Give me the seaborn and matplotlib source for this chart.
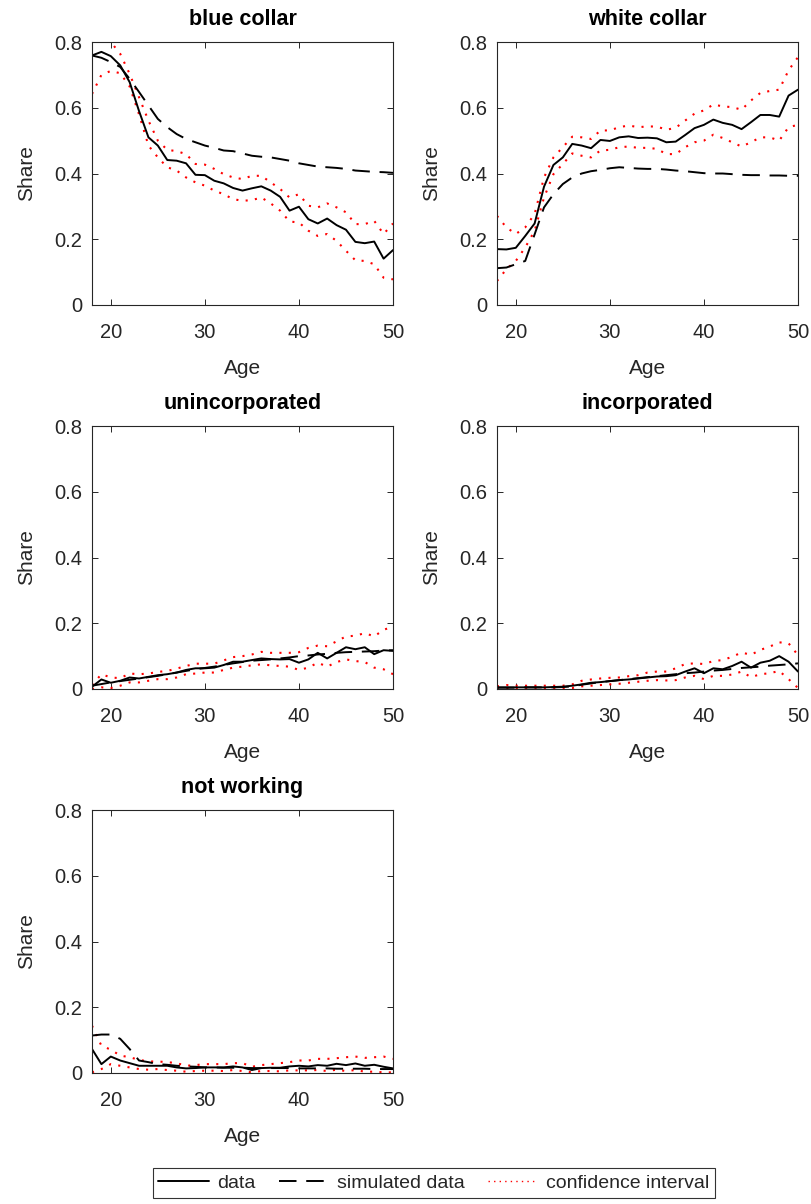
import numpy as np
import pandas as pd
import matplotlib
matplotlib.use("Agg")
import matplotlib.pyplot as plt
import seaborn as sns
from matplotlib.lines import Line2D
from matplotlib.ticker import FuncFormatter

sns.set_theme(style="white")
plt.rcParams['font.family'] = ['Liberation Sans', 'DejaVu Sans']

ages = list(range(18, 51))

titles = ["blue collar", "white collar", "unincorporated", "incorporated", "not working"]

# ---- blue collar ----
bc_data = [0.759, 0.770, 0.757, 0.729, 0.678, 0.590, 0.510, 0.485, 0.441, 0.439, 0.431, 0.396, 0.395,
           0.378, 0.370, 0.356, 0.348, 0.355, 0.361, 0.348, 0.329, 0.287, 0.299, 0.261, 0.248, 0.263,
           0.243, 0.229, 0.192, 0.188, 0.193, 0.141, 0.167]
bc_sim = [0.759, 0.752, 0.739, 0.724, 0.688, 0.648, 0.607, 0.566, 0.541, 0.520, 0.505, 0.495, 0.485,
          0.478, 0.470, 0.468, 0.461, 0.454, 0.451, 0.449, 0.444, 0.439, 0.431, 0.426, 0.421, 0.419,
          0.417, 0.414, 0.409, 0.407, 0.405, 0.404, 0.402]
bc_hi = [0.880, 0.840, 0.800, 0.764, 0.703, 0.632, 0.561, 0.500, 0.472, 0.468, 0.459, 0.429, 0.427,
         0.414, 0.398, 0.388, 0.383, 0.393, 0.393, 0.373, 0.353, 0.327, 0.337, 0.302, 0.297, 0.309,
         0.297, 0.282, 0.246, 0.246, 0.256, 0.216, 0.248]
bc_lo = [0.642, 0.700, 0.712, 0.705, 0.665, 0.580, 0.485, 0.449, 0.419, 0.409, 0.388, 0.373, 0.363,
         0.348, 0.337, 0.322, 0.317, 0.319, 0.327, 0.309, 0.287, 0.254, 0.251, 0.226, 0.210, 0.216,
         0.195, 0.165, 0.136, 0.134, 0.124, 0.083, 0.078]

# ---- white collar ----
wc_data = [0.170, 0.169, 0.174, 0.210, 0.248, 0.360, 0.426, 0.449, 0.490, 0.485, 0.477, 0.502, 0.499,
           0.510, 0.513, 0.508, 0.509, 0.507, 0.495, 0.497, 0.517, 0.538, 0.548, 0.564, 0.554, 0.548,
           0.535, 0.556, 0.578, 0.578, 0.573, 0.637, 0.655]
wc_sim = [0.112, 0.114, 0.124, 0.134, 0.215, 0.297, 0.337, 0.368, 0.388, 0.400, 0.407, 0.411, 0.416,
          0.419, 0.417, 0.415, 0.414, 0.414, 0.412, 0.409, 0.407, 0.404, 0.401, 0.400, 0.400, 0.398,
          0.396, 0.395, 0.395, 0.394, 0.394, 0.393, 0.393]
wc_hi = [0.271, 0.236, 0.216, 0.236, 0.277, 0.388, 0.449, 0.480, 0.512, 0.510, 0.505, 0.531, 0.531,
         0.541, 0.546, 0.541, 0.543, 0.543, 0.533, 0.539, 0.561, 0.582, 0.592, 0.610, 0.604, 0.602,
         0.594, 0.622, 0.645, 0.651, 0.655, 0.714, 0.754]
wc_lo = [0.073, 0.109, 0.134, 0.175, 0.226, 0.327, 0.398, 0.429, 0.461, 0.454, 0.449, 0.470, 0.472,
         0.480, 0.482, 0.478, 0.478, 0.475, 0.459, 0.459, 0.480, 0.495, 0.500, 0.518, 0.508, 0.495,
         0.482, 0.495, 0.510, 0.510, 0.500, 0.541, 0.548]

# ---- unincorporated ----
un_data = [0.007, 0.029, 0.019, 0.025, 0.035, 0.032, 0.037, 0.042, 0.045, 0.050, 0.058, 0.063, 0.063,
           0.065, 0.073, 0.083, 0.083, 0.088, 0.093, 0.091, 0.090, 0.091, 0.080, 0.090, 0.110, 0.093,
           0.110, 0.127, 0.121, 0.127, 0.106, 0.118, 0.116]
un_sim = [0.010, 0.015, 0.020, 0.024, 0.028, 0.032, 0.036, 0.040, 0.045, 0.050, 0.055, 0.060, 0.064,
          0.068, 0.073, 0.078, 0.082, 0.086, 0.088, 0.090, 0.093, 0.096, 0.100, 0.102, 0.105, 0.107,
          0.110, 0.112, 0.113, 0.114, 0.115, 0.117, 0.118]
un_hi = [0.012, 0.045, 0.035, 0.033, 0.047, 0.045, 0.047, 0.052, 0.055, 0.062, 0.070, 0.077, 0.077,
         0.077, 0.087, 0.097, 0.100, 0.105, 0.113, 0.110, 0.110, 0.110, 0.112, 0.125, 0.132, 0.130,
         0.145, 0.160, 0.162, 0.170, 0.160, 0.180, 0.190]
un_lo = [0.000, 0.005, 0.003, 0.010, 0.020, 0.020, 0.025, 0.030, 0.030, 0.035, 0.045, 0.047, 0.050,
         0.050, 0.058, 0.065, 0.068, 0.072, 0.075, 0.072, 0.070, 0.068, 0.058, 0.065, 0.080, 0.068,
         0.082, 0.090, 0.085, 0.082, 0.065, 0.060, 0.045]

# ---- incorporated ----
inc_data = [0.005, 0.005, 0.005, 0.005, 0.005, 0.005, 0.006, 0.007, 0.010, 0.014, 0.019, 0.021, 0.024,
            0.027, 0.029, 0.032, 0.035, 0.038, 0.039, 0.042, 0.053, 0.063, 0.048, 0.063, 0.060, 0.070,
            0.083, 0.065, 0.080, 0.086, 0.100, 0.083, 0.053]
inc_sim = [0.004, 0.004, 0.004, 0.005, 0.005, 0.005, 0.005, 0.006, 0.008, 0.013, 0.017, 0.021, 0.024,
           0.027, 0.030, 0.033, 0.036, 0.039, 0.042, 0.045, 0.048, 0.050, 0.053, 0.056, 0.058, 0.061,
           0.064, 0.066, 0.068, 0.071, 0.073, 0.075, 0.078]
inc_hi = [0.008, 0.012, 0.010, 0.010, 0.010, 0.010, 0.010, 0.010, 0.014, 0.025, 0.029, 0.032, 0.034,
          0.035, 0.039, 0.042, 0.050, 0.053, 0.053, 0.063, 0.076, 0.078, 0.076, 0.085, 0.088, 0.098,
          0.111, 0.104, 0.119, 0.129, 0.142, 0.139, 0.103]
inc_lo = [0.000, 0.000, 0.000, 0.000, 0.000, 0.000, 0.000, 0.001, 0.003, 0.008, 0.010, 0.012, 0.014,
          0.016, 0.019, 0.022, 0.025, 0.027, 0.026, 0.027, 0.035, 0.040, 0.030, 0.040, 0.040, 0.044,
          0.053, 0.036, 0.045, 0.048, 0.055, 0.030, 0.003]

# ---- not working ----
nw_data = [0.073, 0.027, 0.050, 0.038, 0.030, 0.022, 0.022, 0.022, 0.022, 0.017, 0.014, 0.015, 0.017,
           0.017, 0.017, 0.020, 0.017, 0.009, 0.015, 0.016, 0.016, 0.020, 0.022, 0.020, 0.024, 0.022,
           0.028, 0.024, 0.029, 0.022, 0.025, 0.019, 0.014]
nw_sim = [0.114, 0.117, 0.117, 0.104, 0.073, 0.038, 0.033, 0.027, 0.025, 0.022, 0.020, 0.019, 0.017,
          0.017, 0.016, 0.016, 0.016, 0.015, 0.015, 0.015, 0.015, 0.015, 0.014, 0.014, 0.014, 0.014,
          0.013, 0.013, 0.013, 0.013, 0.012, 0.012, 0.012]
nw_hi = [0.144, 0.083, 0.071, 0.053, 0.048, 0.040, 0.035, 0.035, 0.033, 0.030, 0.022, 0.024, 0.027,
         0.027, 0.027, 0.030, 0.030, 0.019, 0.024, 0.027, 0.030, 0.033, 0.038, 0.038, 0.043, 0.043,
         0.045, 0.048, 0.050, 0.046, 0.048, 0.050, 0.043]
nw_lo = [0.002, 0.012, 0.027, 0.022, 0.017, 0.012, 0.010, 0.012, 0.009, 0.007, 0.004, 0.006, 0.007,
         0.007, 0.006, 0.009, 0.006, 0.002, 0.006, 0.006, 0.005, 0.008, 0.008, 0.008, 0.009, 0.006,
         0.010, 0.006, 0.009, 0.004, 0.004, 0.002, 0.002]

panels = [
    (bc_data, bc_sim, bc_hi, bc_lo),
    (wc_data, wc_sim, wc_hi, wc_lo),
    (un_data, un_sim, un_hi, un_lo),
    (inc_data, inc_sim, inc_hi, inc_lo),
    (nw_data, nw_sim, nw_hi, nw_lo),
]

W, H = 812, 1204
fig = plt.figure(figsize=(W / 100, H / 100), dpi=100)

lefts = [92, 497]
tops = [42, 426, 810]
aw, ah = 301, 263

axcol = "#262626"
fmt = FuncFormatter(lambda v, p: "%g" % round(v, 3))
DASH = (0, (9, 5))
DOT = (0, (1, 3.5))

for i, (title, (d, s, hi, lo)) in enumerate(zip(titles, panels)):
    r, c = divmod(i, 2)
    l = lefts[c]
    t = tops[r]
    ax = fig.add_axes([l / W, 1 - (t + ah) / H, aw / W, ah / H])
    df = pd.DataFrame({"Age": ages, "data": d, "sim": s, "hi": hi, "lo": lo})
    sns.lineplot(data=df, x="Age", y="hi", ax=ax, color="red", linestyle=DOT, linewidth=1.5)
    sns.lineplot(data=df, x="Age", y="lo", ax=ax, color="red", linestyle=DOT, linewidth=1.5)
    sns.lineplot(data=df, x="Age", y="sim", ax=ax, color="black", linestyle=DASH, linewidth=1.4)
    sns.lineplot(data=df, x="Age", y="data", ax=ax, color="black", linestyle="-", linewidth=1.4)
    ax.set_xlim(18, 50)
    ax.set_ylim(0, 0.8)
    ax.set_xticks([20, 30, 40, 50])
    ax.set_yticks([0, 0.2, 0.4, 0.6, 0.8])
    ax.yaxis.set_major_formatter(fmt)
    ax.set_title(title, fontsize=15.5, fontweight="bold", color="black", pad=12)
    ax.set_xlabel("Age", fontsize=15, color=axcol, labelpad=12)
    ax.set_ylabel("Share", fontsize=15, color=axcol, labelpad=13)
    ax.tick_params(axis="both", direction="in", length=4, width=0.7, colors=axcol, labelsize=14.5,
                   top=True, right=True, bottom=True, left=True)
    ax.tick_params(axis="x", pad=13)
    ax.tick_params(axis="y", pad=7)
    for sp in ax.spines.values():
        sp.set_color(axcol)
        sp.set_linewidth(0.8)
        sp.set_visible(True)
    ax.set_facecolor("white")
    ax.grid(False)

handles = [
    Line2D([], [], color="black", linestyle="-", linewidth=1.4),
    Line2D([], [], color="black", linestyle=DASH, linewidth=1.4),
    Line2D([], [], color="red", linestyle=(0, (1, 3)), linewidth=1.0),
]
leg = fig.legend(handles, ["data", "simulated data", "confidence interval"], ncol=3,
                 loc="center", bbox_to_anchor=(434 / W, 1 - 1183 / H), frameon=True,
                 fontsize=14, handlelength=2.6, handletextpad=0.4, columnspacing=1.2,
                 borderpad=0.3, fancybox=False)
leg.get_frame().set_edgecolor("black")
leg.get_frame().set_linewidth(0.8)

fig.savefig("out.png", dpi=100, facecolor="white")
